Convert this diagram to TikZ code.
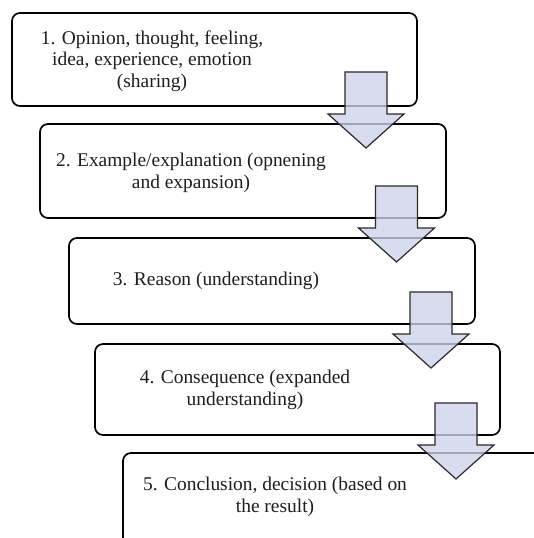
\documentclass[tikz,border=0pt]{standalone}
\usepackage{fontspec}
\setmainfont{Liberation Serif}
\definecolor{arrowfill}{HTML}{CDD3EA}
\definecolor{arrowline}{HTML}{2A2A2A}
\definecolor{txt}{HTML}{1E1E1E}
\tikzset{
  stepbox/.style={draw=black, line width=1.7bp, rounded corners=8bp, inner sep=0pt},
  steptext/.style={align=center, text=txt, inner sep=0pt, font=\fontsize{19.5}{21.5}\selectfont},
  pics/bigarrow/.style={code={
    \path[fill=arrowfill, fill opacity=0.78, draw=arrowline, line width=1.2bp, line join=miter]
      (-21,0) -- (21,0) -- (21,42) -- (38,42) -- (0,76) -- (-38,42) -- (-21,42) -- cycle;
  }}
}
\begin{document}
\begin{tikzpicture}[x=1bp,y=-1bp]
\clip (0,0) rectangle (534,538);
\fill[white] (0,0) rectangle (534,538);
% boxes
\node[stepbox, minimum width=405bp, minimum height=93bp] (b1) at (214.5,59.5) {};
\node[stepbox, minimum width=406bp, minimum height=94bp] (b2) at (243,171) {};
\node[stepbox, minimum width=406bp, minimum height=86bp] (b3) at (272,281) {};
\node[stepbox, minimum width=405bp, minimum height=91bp] (b4) at (297.5,389.5) {};
\node[stepbox, minimum width=430bp, minimum height=100bp] (b5) at (338,503) {};
% texts
\node[steptext] (t1) at (152,61) {1. Opinion, thought, feeling,\\idea, experience, emotion\\(sharing)};
\node[steptext] (t2) at (191,173) {2. Example/explanation (opnening\\and expansion)};
\node[steptext] (t3) at (216,281) {3. Reason (understanding)};
\node[steptext] (t4) at (245,390) {4. Consequence (expanded\\understanding)};
\node[steptext] (t5) at (275,497) {5. Conclusion, decision (based on\\the result)};
% arrows
\pic at (366,72) {bigarrow};
\pic at (396.5,186) {bigarrow};
\pic at (431,292) {bigarrow};
\pic at (456,403) {bigarrow};
\end{tikzpicture}
\end{document}
